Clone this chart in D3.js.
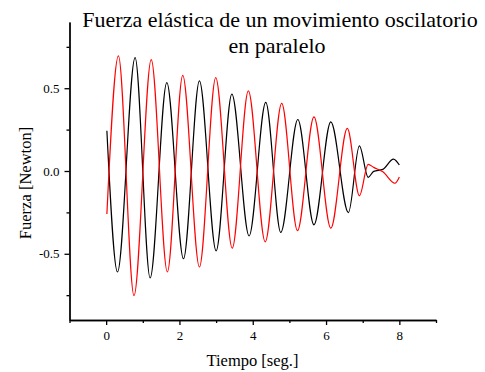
<!DOCTYPE html>
<html>
<head>
<meta charset="utf-8">
<script src="https://cdn.jsdelivr.net/npm/d3@7"></script>
<style>
  body { margin: 0; background: #fff; }
</style>
</head>
<body>
<div id="chart"></div>
<script>
// extrema (time in s, force in N)
const blackT = [0.02, 0.31, 0.79, 1.2, 1.655, 2.11, 2.545, 3.0, 3.43, 3.9, 4.355, 4.765, 5.23, 5.67, 6.13, 6.61, 6.91, 7.15, 7.3, 7.55, 7.84, 8.0];
const blackV = [0.243, -0.61, 0.685, -0.646, 0.534, -0.53, 0.544, -0.482, 0.464, -0.392, 0.414, -0.371, 0.311, -0.325, 0.297, -0.251, 0.152, -0.038, -0.002, 0.01, 0.072, 0.036];
const redT = [0.02, 0.335, 0.76, 1.23, 1.67, 2.09, 2.545, 2.99, 3.44, 3.88, 4.34, 4.79, 5.22, 5.67, 6.13, 6.58, 6.91, 7.15, 7.3, 7.55, 7.88, 8.0];
const redV = [-0.26, 0.695, -0.753, 0.673, -0.61, 0.578, -0.58, 0.564, -0.466, 0.484, -0.428, 0.408, -0.36, 0.327, -0.345, 0.257, -0.149, 0.04, 0.022, -0.005, -0.074, -0.036];

const xTicks = [0, 2, 4, 6, 8];
const xMinor = [-1, 1, 3, 5, 7, 9];
const yTicks = [-0.5, 0, 0.5];
const yTickLabels = ["-0.5", "0.0", "0.5"];
const yMinor = [-0.75, -0.25, 0.25, 0.75];

const width = 485, height = 372;
const serif = '"Liberation Serif", "Times New Roman", serif';

const svg = d3.select("#chart").append("svg")
  .attr("width", width)
  .attr("height", height)
  .style("font-family", serif);

const x = d3.scaleLinear().domain([-1, 9]).range([69.5, 436]);
const y = d3.scaleLinear().domain([-0.9, 0.9]).range([320, 22]);

// axes
function styleAxis(g) {
  g.attr("font-family", null).style("font-family", serif);
  g.selectAll("path, line").attr("stroke", "#000").attr("stroke-width", 1.3);
  g.selectAll("text").style("font-family", serif)
    .attr("font-size", 13).attr("fill", "#000");
}

svg.append("g")
  .attr("transform", `translate(0,320)`)
  .call(d3.axisBottom(x).tickValues(xMinor).tickSize(3).tickSizeOuter(0).tickFormat(""))
  .call(styleAxis);
svg.append("g")
  .attr("transform", `translate(0,320)`)
  .call(d3.axisBottom(x).tickValues(xTicks).tickSize(5).tickSizeOuter(0).tickPadding(6).tickFormat(d3.format("d")))
  .call(styleAxis);

svg.append("g")
  .attr("transform", `translate(69.5,0)`)
  .call(d3.axisLeft(y).tickValues(yMinor).tickSize(3).tickSizeOuter(0).tickFormat(""))
  .call(styleAxis);
svg.append("g")
  .attr("transform", `translate(69.5,0)`)
  .call(d3.axisLeft(y).tickValues(yTicks).tickSize(5).tickSizeOuter(0).tickPadding(5)
    .tickFormat((d, i) => yTickLabels[i]))
  .call(styleAxis);

// curves
const line = d3.line()
  .x(d => x(d[0]))
  .y(d => y(d[1]))
  .curve(d3.curveMonotoneX);

svg.append("path")
  .datum(d3.zip(blackT, blackV))
  .attr("d", line)
  .attr("fill", "none")
  .attr("stroke", "#000")
  .attr("stroke-width", 1.2);

svg.append("path")
  .datum(d3.zip(redT, redV))
  .attr("d", line)
  .attr("fill", "none")
  .attr("stroke", "#ff0000")
  .attr("stroke-width", 1.2);

// titles
svg.append("text")
  .attr("x", 280).attr("y", 27)
  .attr("text-anchor", "middle")
  .attr("font-size", 22)
  .text("Fuerza elástica de un movimiento oscilatorio");
svg.append("text")
  .attr("x", 277).attr("y", 53)
  .attr("text-anchor", "middle")
  .attr("font-size", 22)
  .text("en paralelo");

svg.append("text")
  .attr("x", 252.5).attr("y", 366)
  .attr("text-anchor", "middle")
  .attr("font-size", 16.5)
  .text("Tiempo [seg.]");

svg.append("text")
  .attr("transform", "translate(31,183) rotate(-90)")
  .attr("text-anchor", "middle")
  .attr("font-size", 16.5)
  .text("Fuerza [Newton]");
</script>
</body>
</html>
